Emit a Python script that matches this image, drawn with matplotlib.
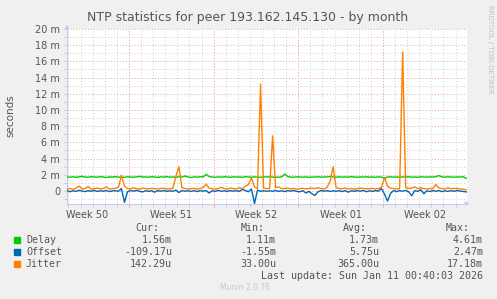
import numpy as np
import matplotlib
matplotlib.use('Agg')
import matplotlib.pyplot as plt
from matplotlib.ticker import MultipleLocator, FixedLocator

##########################################################
# data (ms) - one sample every 6 hours, 133 samples
##########################################################

delay = [1.72, 1.70, 1.75, 1.68, 1.74, 1.80, 1.71, 1.69, 1.76, 1.73,
         1.70, 1.78, 1.72, 1.66, 1.74, 1.71, 1.77, 1.70, 1.73, 1.68,
         1.75, 1.72, 1.69, 1.74, 1.80, 1.71, 1.73, 1.70, 1.76, 1.72,
         1.68, 1.74, 1.71, 1.77, 1.70, 1.73, 1.69, 1.75, 1.72, 1.85,
         1.72, 1.66, 1.74, 1.70, 1.76, 1.73, 2.05, 1.78, 1.71, 1.69,
         1.74, 1.70, 1.76, 1.72, 1.68, 1.75, 1.71, 1.73, 1.69, 1.77,
         1.72, 1.70, 1.74, 1.71, 1.68, 1.75, 1.72, 1.76, 1.70, 1.73,
         1.69, 1.74, 2.08, 1.78, 1.71, 1.69, 1.75, 1.72, 1.70, 1.74,
         1.68, 1.73, 1.71, 1.76, 1.70, 1.74, 1.72, 1.80, 1.73, 1.69,
         1.75, 1.71, 1.74, 1.70, 1.77, 1.72, 1.69, 1.74, 1.71, 1.76,
         1.70, 1.73, 1.68, 1.74, 1.71, 1.56, 1.72, 1.75, 1.70, 1.73,
         1.69, 1.74, 1.71, 1.76, 1.70, 1.73, 1.68, 1.75, 1.72, 1.70,
         1.74, 1.71, 1.77, 1.90, 1.73, 1.70, 1.75, 1.72, 1.69, 1.74,
         1.71, 1.76, 1.56]

offset = [0.05, -0.10, 0.02, -0.05, 0.08, -0.02, -0.08, 0.03, -0.04, 0.06,
          -0.06, 0.02, -0.03, 0.05, -0.08, 0.00, 0.04, -0.05, 0.30, -1.40,
          -0.10, 0.05, -0.02, 0.06, -0.04, -0.12, 0.03, -0.05, 0.02, -0.15,
          0.04, -0.03, 0.05, -0.06, 0.02, -0.04, 0.10, -0.20, 0.05, -0.03,
          0.02, -0.05, 0.04, -0.08, 0.03, -0.02, 0.05, -0.25, 0.02, -0.04,
          0.06, -0.03, 0.02, -0.06, 0.04, -0.02, 0.03, -0.05, 0.20, 0.05,
          -0.10, 0.25, -1.55, 0.10, -0.05, 0.03, -0.04, 0.02, -0.03, 0.05,
          -0.05, 0.02, -0.08, 0.04, -0.02, 0.05, -0.06, -0.10, 0.03, -0.25,
          -0.05, -0.35, -0.55, -0.10, 0.05, -0.03, 0.04, -0.06, 0.02, -0.04,
          0.03, -0.08, 0.05, -0.15, 0.02, -0.05, 0.04, -0.03, 0.06, -0.10,
          0.02, -0.05, 0.04, -0.02, 0.30, -0.40, -1.25, -0.30, 0.05, -0.08,
          0.04, -0.02, 0.06, -0.10, -0.60, 0.05, -0.05, 0.15, -0.35, 0.02,
          -0.06, 0.04, -0.03, 0.05, -0.08, 0.02, -0.05, 0.03, -0.04, 0.05,
          -0.02, -0.06, -0.11]

jitter = [0.25, 0.30, 0.20, 0.35, 0.60, 0.25, 0.30, 0.55, 0.22, 0.28,
          0.35, 0.25, 0.30, 0.50, 0.22, 0.28, 0.32, 0.45, 1.90, 0.60,
          0.30, 0.25, 0.40, 0.28, 0.22, 0.35, 0.30, 0.25, 0.32, 0.28,
          0.25, 0.30, 0.35, 0.22, 0.28, 0.30, 1.80, 3.00, 0.40, 0.30,
          0.25, 0.28, 0.32, 0.22, 0.30, 0.40, 0.85, 0.35, 0.28, 0.25,
          0.30, 0.45, 0.28, 0.22, 0.35, 0.30, 0.25, 0.40, 0.28, 0.60,
          0.80, 1.60, 0.50, 0.30, 13.20, 0.35, 0.30, 0.28, 6.80, 0.40,
          0.50, 0.30, 0.28, 0.35, 0.25, 0.30, 0.22, 0.28, 0.32, 0.25,
          0.30, 0.35, 0.28, 0.40, 0.30, 0.25, 0.45, 1.20, 3.00, 0.40,
          0.30, 0.28, 0.35, 0.25, 0.30, 0.22, 0.28, 0.35, 0.30, 0.25,
          0.28, 0.32, 0.25, 0.30, 0.45, 1.65, 0.60, 0.35, 0.30, 0.25,
          0.28, 17.18, 0.40, 0.30, 0.35, 0.50, 0.28, 0.40, 0.30, 0.25,
          0.30, 0.28, 0.80, 0.35, 0.30, 0.25, 0.40, 0.28, 0.30, 0.32,
          0.25, 0.22, 0.14]

week_labels = ['Week 50', 'Week 51', 'Week 52', 'Week 01', 'Week 02']
y_ticks = [0, 2, 4, 6, 8, 10, 12, 14, 16, 18, 20]
y_labels = ['0', '2 m', '4 m', '6 m', '8 m', '10 m', '12 m', '14 m', '16 m', '18 m', '20 m']

names = ['Delay', 'Offset', 'Jitter']
cur = ['1.56m', '-109.17u', '142.29u']
mins = ['1.11m', '-1.55m', '33.00u']
avgs = ['1.73m', '5.75u', '365.00u']
maxs = ['4.61m', '2.47m', '17.18m']
colors = ['#00CC00', '#0066B3', '#FF8000']

t = np.arange(len(delay)) * 0.25   # days
week_start = 5.12                   # first monday inside the graph (days)
x_end = 33.07

txt = '#555555'
bg = '#F0F0F0'

fig = plt.figure(figsize=(4.97, 2.99), dpi=100, facecolor=bg)
ax = fig.add_axes([67/497, 1 - 203.5/299, 400/497, 174.5/299])
ax.set_facecolor('white')

# grid
days = np.arange(week_start - 5, x_end, 1.0)
weeks = np.arange(week_start, x_end, 7.0)
for d in days:
    ax.axvline(d, color='#CFCFCF', lw=0.7, ls=(0, (1, 2)), zorder=0)
for w in weeks:
    ax.axvline(w, color='#F0A0A0', lw=0.7, ls=(0, (1, 2)), zorder=0)
for y in np.arange(-1, 20, 1):
    if y % 2:
        ax.axhline(y, color='#CFCFCF', lw=0.7, ls=(0, (1, 2)), zorder=0)
for y in y_ticks:
    ax.axhline(y, color='#F0A0A0', lw=0.7, ls=(0, (1, 2)), zorder=0)

ax.plot(t, delay, color=colors[0], lw=1.0, zorder=3)
ax.plot(t, offset, color=colors[1], lw=1.0, zorder=4)
ax.plot(t, jitter, color=colors[2], lw=1.0, zorder=5)

ax.set_xlim(0, x_end)
ax.set_ylim(-1.55, 20)

ax.set_yticks(y_ticks)
ax.set_yticklabels(y_labels, fontsize=7, color=txt)
ax.yaxis.set_minor_locator(MultipleLocator(1))
ax.set_xticks(weeks)
ax.set_xticklabels([])
ax.xaxis.set_minor_locator(FixedLocator(days))
ax.tick_params(axis='both', which='both', color='#C8C8C8', length=2, width=0.7, pad=3)
ax.tick_params(axis='x', which='major', color='#F0A0A0')
for s in ['top', 'right']:
    ax.spines[s].set_visible(False)
for s in ['left', 'bottom']:
    ax.spines[s].set_color('#C8CCF0')
    ax.spines[s].set_linewidth(0.8)

# arrows at end of axes
ax.annotate('', xy=(0, 20.9), xytext=(0, 19.9), xycoords='data',
            arrowprops=dict(arrowstyle='-|>', color='#C8CCF0', lw=0.8, mutation_scale=6),
            annotation_clip=False)
ax.annotate('', xy=(x_end + 0.45, -1.55), xytext=(x_end - 0.2, -1.55),
            arrowprops=dict(arrowstyle='-|>', color='#C8CCF0', lw=0.8, mutation_scale=6),
            annotation_clip=False)

for i, lab in enumerate(week_labels):
    ax.text(week_start - 3.5 + 7 * i, -0.035, lab, transform=ax.get_xaxis_transform(),
            ha='center', va='top', fontsize=7, color=txt)

fig.text(248/497, 1 - 17/299, 'NTP statistics for peer 193.162.145.130 - by month',
         ha='center', va='center', fontsize=9.0, color=txt)
fig.text(10/497, 1 - 116/299, 'seconds', rotation=90, ha='center', va='center',
         fontsize=7.5, color=txt)
fig.text(490/497, 1 - 5/299, 'RRDTOOL / TOBI OETIKER', rotation=270, ha='center', va='top',
         fontsize=5, color='#C0C0C0')

# legend
mono = 'DejaVu Sans Mono'
fs = 7.2
def fy(y):
    return 1 - y / 299

for x, h in [(159, 'Cur:'), (265, 'Min:'), (367, 'Avg:'), (470, 'Max:')]:
    fig.text(x/497, fy(228), h, ha='right', va='center', fontsize=fs, family=mono, color=txt)
for i, n in enumerate(names):
    y = 240 + 12 * i
    fig.patches.append(plt.Rectangle((14/497, fy(y + 3)), 6/497, 6/299, color=colors[i],
                                     transform=fig.transFigure, figure=fig))
    fig.text(26/497, fy(y), n, ha='left', va='center', fontsize=fs, family=mono, color=txt)
    fig.text(172/497, fy(y), cur[i], ha='right', va='center', fontsize=fs, family=mono, color=txt)
    fig.text(276/497, fy(y), mins[i], ha='right', va='center', fontsize=fs, family=mono, color=txt)
    fig.text(379/497, fy(y), avgs[i], ha='right', va='center', fontsize=fs, family=mono, color=txt)
    fig.text(483/497, fy(y), maxs[i], ha='right', va='center', fontsize=fs, family=mono, color=txt)
fig.text(483/497, fy(276), 'Last update: Sun Jan 11 00:40:03 2026', ha='right', va='center',
         fontsize=fs, family=mono, color=txt)
fig.text(245/497, fy(288), 'Munin 2.0.76', ha='center', va='center', fontsize=5.5, color='#C8C8C8')

fig.savefig('out.png', dpi=100, facecolor=bg)
